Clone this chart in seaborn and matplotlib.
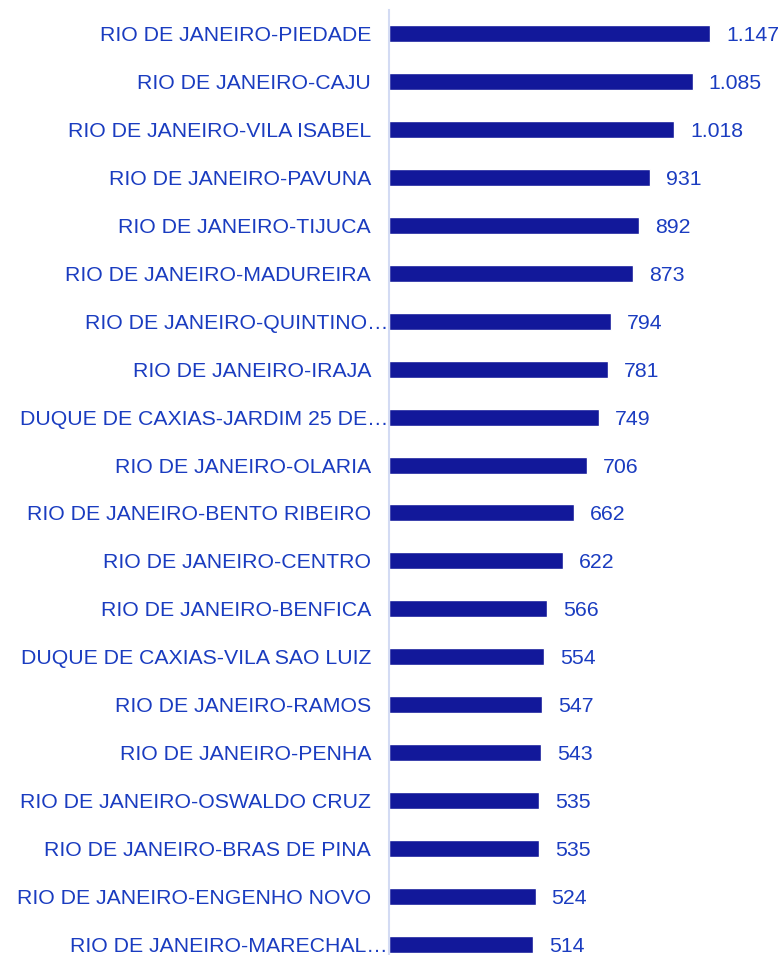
import matplotlib
matplotlib.use("Agg")
import matplotlib.pyplot as plt
import matplotlib.transforms as mtransforms
import pandas as pd
import seaborn as sns

bairros = [
    "RIO DE JANEIRO-PIEDADE",
    "RIO DE JANEIRO-CAJU",
    "RIO DE JANEIRO-VILA ISABEL",
    "RIO DE JANEIRO-PAVUNA",
    "RIO DE JANEIRO-TIJUCA",
    "RIO DE JANEIRO-MADUREIRA",
    "RIO DE JANEIRO-QUINTINO…",
    "RIO DE JANEIRO-IRAJA",
    "DUQUE DE CAXIAS-JARDIM 25 DE…",
    "RIO DE JANEIRO-OLARIA",
    "RIO DE JANEIRO-BENTO RIBEIRO",
    "RIO DE JANEIRO-CENTRO",
    "RIO DE JANEIRO-BENFICA",
    "DUQUE DE CAXIAS-VILA SAO LUIZ",
    "RIO DE JANEIRO-RAMOS",
    "RIO DE JANEIRO-PENHA",
    "RIO DE JANEIRO-OSWALDO CRUZ",
    "RIO DE JANEIRO-BRAS DE PINA",
    "RIO DE JANEIRO-ENGENHO NOVO",
    "RIO DE JANEIRO-MARECHAL…",
]
valores = [1147, 1085, 1018, 931, 892, 873, 794, 781, 749, 706,
           662, 622, 566, 554, 547, 543, 535, 535, 524, 514]

BAR = "#12189a"
TEXT = "#1a3cc0"

df = pd.DataFrame({"bairro": bairros, "valor": valores})

sns.set_theme(style="white")
plt.rcParams["font.family"] = ["Liberation Sans", "DejaVu Sans"]

W, H = 782, 955
fig = plt.figure(figsize=(W / 100, H / 100), dpi=100)
ax = fig.add_axes([389 / W, 1 - 968 / H, (W - 389) / W, 958 / H])

sns.barplot(data=df, x="valor", y="bairro", orient="h", color=BAR,
            width=0.355, saturation=1, ax=ax)

ax.set_xlim(0, 1404)
ax.set_ylim(19.5, -0.5)
ax.set_xlabel("")
ax.set_ylabel("")
ax.set_xticks([])
for s in ["top", "right", "bottom"]:
    ax.spines[s].set_visible(False)
ax.spines["left"].set_color("#d3dbf3")
ax.spines["left"].set_linewidth(1.5)
ax.tick_params(axis="y", length=0, pad=13, labelsize=15.3, labelcolor=TEXT)

# truncated names: the ellipsis runs over the gap up to the axis line
shift = mtransforms.ScaledTranslation(17 / 100, 0, fig.dpi_scale_trans)
for lab in ax.get_yticklabels():
    if lab.get_text().endswith("…"):
        lab.set_transform(lab.get_transform() + shift)

rotulos = [f"{v:,}".replace(",", ".") for v in valores]
txts = ax.bar_label(ax.containers[0], labels=rotulos, padding=11.5,
                    fontsize=15.3, color=TEXT)
for t in txts:
    t.set_verticalalignment("center_baseline")

fig.savefig("out.png", dpi=100)
